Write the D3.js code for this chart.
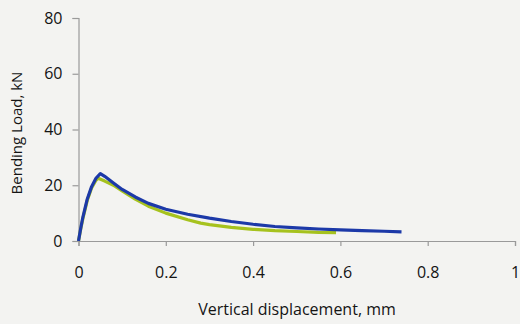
<!DOCTYPE html>
<html><head><meta charset="utf-8">
<script src="https://cdn.jsdelivr.net/npm/d3@7/dist/d3.min.js"></script>
<style>html,body{margin:0;padding:0;background:#f3f3f1;}</style>
</head><body>
<script>
const xTicks = [0, 0.2, 0.4, 0.6, 0.8, 1];
const xTickLabels = ["0", "0.2", "0.4", "0.6", "0.8", "1"];
const yTicks = [0, 20, 40, 60, 80];
const yTickLabels = ["0", "20", "40", "60", "80"];

const greenX = [0, 0.005, 0.01, 0.02, 0.03, 0.04, 0.045, 0.06, 0.08, 0.1, 0.13, 0.16, 0.2, 0.25, 0.28, 0.3, 0.35, 0.4, 0.45, 0.5, 0.55, 0.59];
const greenY = [0, 4.2, 8, 14.5, 19, 21.8, 22.5, 21.5, 20.0, 18.0, 15.0, 12.5, 10.0, 7.6, 6.4, 5.9, 4.9, 4.2, 3.7, 3.4, 3.1, 3.0];

const blueX = [0, 0.005, 0.01, 0.02, 0.03, 0.04, 0.05, 0.06, 0.08, 0.1, 0.13, 0.16, 0.2, 0.25, 0.3, 0.35, 0.4, 0.45, 0.5, 0.55, 0.6, 0.65, 0.7, 0.74];
const blueY = [0, 4.5, 8.5, 15, 19.5, 22.5, 24.2, 23.2, 20.8, 18.5, 15.8, 13.5, 11.4, 9.6, 8.2, 7.0, 6.0, 5.2, 4.7, 4.3, 4.0, 3.7, 3.5, 3.3];

const W = 520, H = 324;
const svg = d3.select("body").append("svg").attr("width", W).attr("height", H)
  .style("display","block").style("background","#f3f3f1");

const x = d3.scaleLinear().domain([0, 1]).range([78.5, 515]);
const y = d3.scaleLinear().domain([0, 80]).range([241, 18]);

const font = "'Open Sans', 'Liberation Sans', sans-serif";
const axisColor = "#9a9a9a";

const gx = svg.append("g").attr("transform", `translate(0,${y(0)})`)
  .call(d3.axisBottom(x).tickValues(xTicks).tickFormat((d,i)=>xTickLabels[i]).tickSizeOuter(0).tickSize(5).tickPadding(21));
const gy = svg.append("g").attr("transform", `translate(${x(0)},0)`)
  .call(d3.axisLeft(y).tickValues(yTicks).tickFormat((d,i)=>yTickLabels[i]).tickSizeOuter(0).tickSize(6).tickPadding(10));

[gx, gy].forEach(g => {
  g.select(".domain").attr("stroke", axisColor).attr("stroke-width", 1.2);
  g.selectAll(".tick line").attr("stroke", axisColor).attr("stroke-width", 1.2);
  g.selectAll(".tick text").attr("fill", "#141414").style("font-family", font).style("font-size", "16px");
});

const line = d3.line().x(d => x(d[0])).y(d => y(d[1])).curve(d3.curveLinear);

const green = greenX.map((v,i)=>[v, greenY[i]]);
const blue = blueX.map((v,i)=>[v, blueY[i]]);

svg.append("path").datum(green).attr("d", line).attr("fill","none")
  .attr("stroke","#a6c21e").attr("stroke-width",3.2).attr("stroke-linejoin","round");
svg.append("path").datum(blue).attr("d", line).attr("fill","none")
  .attr("stroke","#1c39a8").attr("stroke-width",3.2).attr("stroke-linejoin","round");

svg.append("text").attr("x", 297).attr("y", 315).attr("text-anchor","middle")
  .style("font-family", font).style("font-size","16px").attr("fill","#141414")
  .text("Vertical displacement, mm");

svg.append("text").attr("transform","translate(22,133) rotate(-90)").attr("text-anchor","middle")
  .style("font-family", font).style("font-size","15px").attr("fill","#141414")
  .text("Bending Load, kN");
</script>
</body></html>
